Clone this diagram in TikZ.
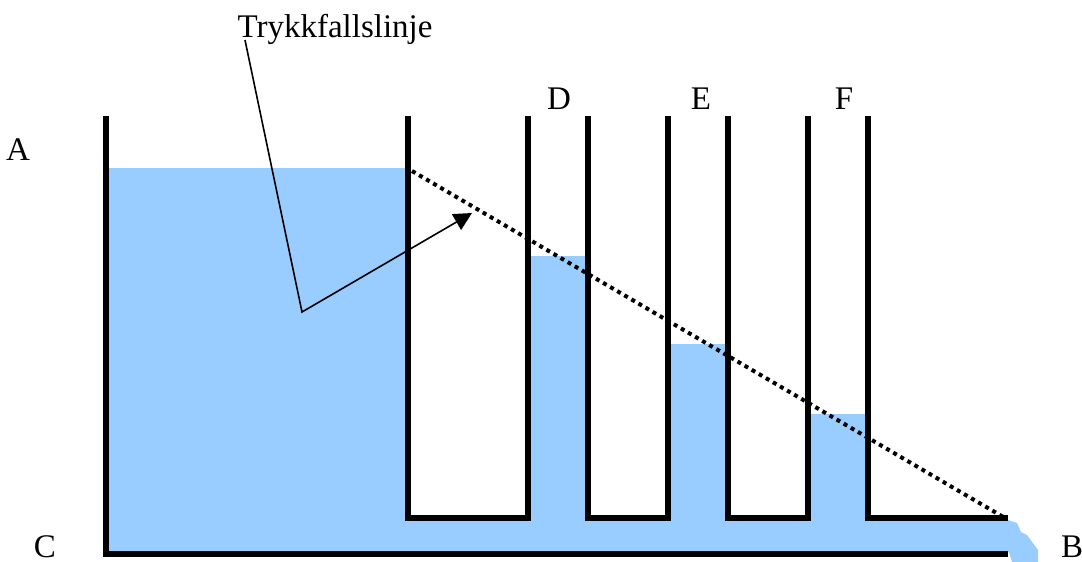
\documentclass[tikz,border=0pt]{standalone}
\usepackage{fontspec}
\setmainfont{Liberation Serif}
\usetikzlibrary{arrows.meta}
\definecolor{water}{HTML}{99CCFF}
\tikzset{
    wall/.style={line width=2.9pt},
    lab/.style={font=\fontsize{16.5}{18}\selectfont,inner sep=0pt},
    leader/.style={line width=0.8pt},
}

\begin{document}
\begin{tikzpicture}[x=0.5pt,y=-0.5pt]
    \useasboundingbox (0,0) rectangle (1082,562);
    % water
    \fill[water] (106,168)--(408,168)--(408,518)--(528,518)--(528,256)--(588,256)--(588,518)
        --(668,518)--(668,344)--(728,344)--(728,518)--(808,518)--(808,414)--(868,414)--(868,518)
        --(1008,520)--(1017,523)--(1021,532)--(1027,535)--(1038,550)--(1038,562)--(1012,562)--(1009,552)--(106,552)--cycle;
    % tubes
    \draw[wall] (106,116)--(106,554)--(1008,554);
    \draw[wall] (408,116)--(408,518)--(528,518)--(528,116);
    \draw[wall] (588,116)--(588,518)--(668,518)--(668,116);
    \draw[wall] (728,116)--(728,518)--(808,518)--(808,116);
    \draw[wall] (868,116)--(868,518)--(1008,518);
    % pressure line
    \coordinate (P1) at (412,171);
    \coordinate (P2) at (1005,518);
    \draw[line width=2pt,dash pattern=on 2pt off 2.1pt] (P1)--(P2);
    % labels
    \node[lab] (Lt) at (335,29) {Trykkfallslinje};
    \node[lab] (La) at (18,150) {A};
    \node[lab] (Lb) at (1072,547) {B};
    \node[lab] (Lc) at (45,547) {C};
    \node[lab] (Ld) at (559,99) {D};
    \node[lab] (Le) at (701,99) {E};
    \node[lab] (Lf) at (844,99) {F};
    % leader
    \coordinate (K) at (302,312);
    \coordinate (T) at (472,213);
    \draw[leader,-{Triangle[length=9pt,width=9pt]}] (245,40)--(K)--(T);
\end{tikzpicture}
\end{document}
